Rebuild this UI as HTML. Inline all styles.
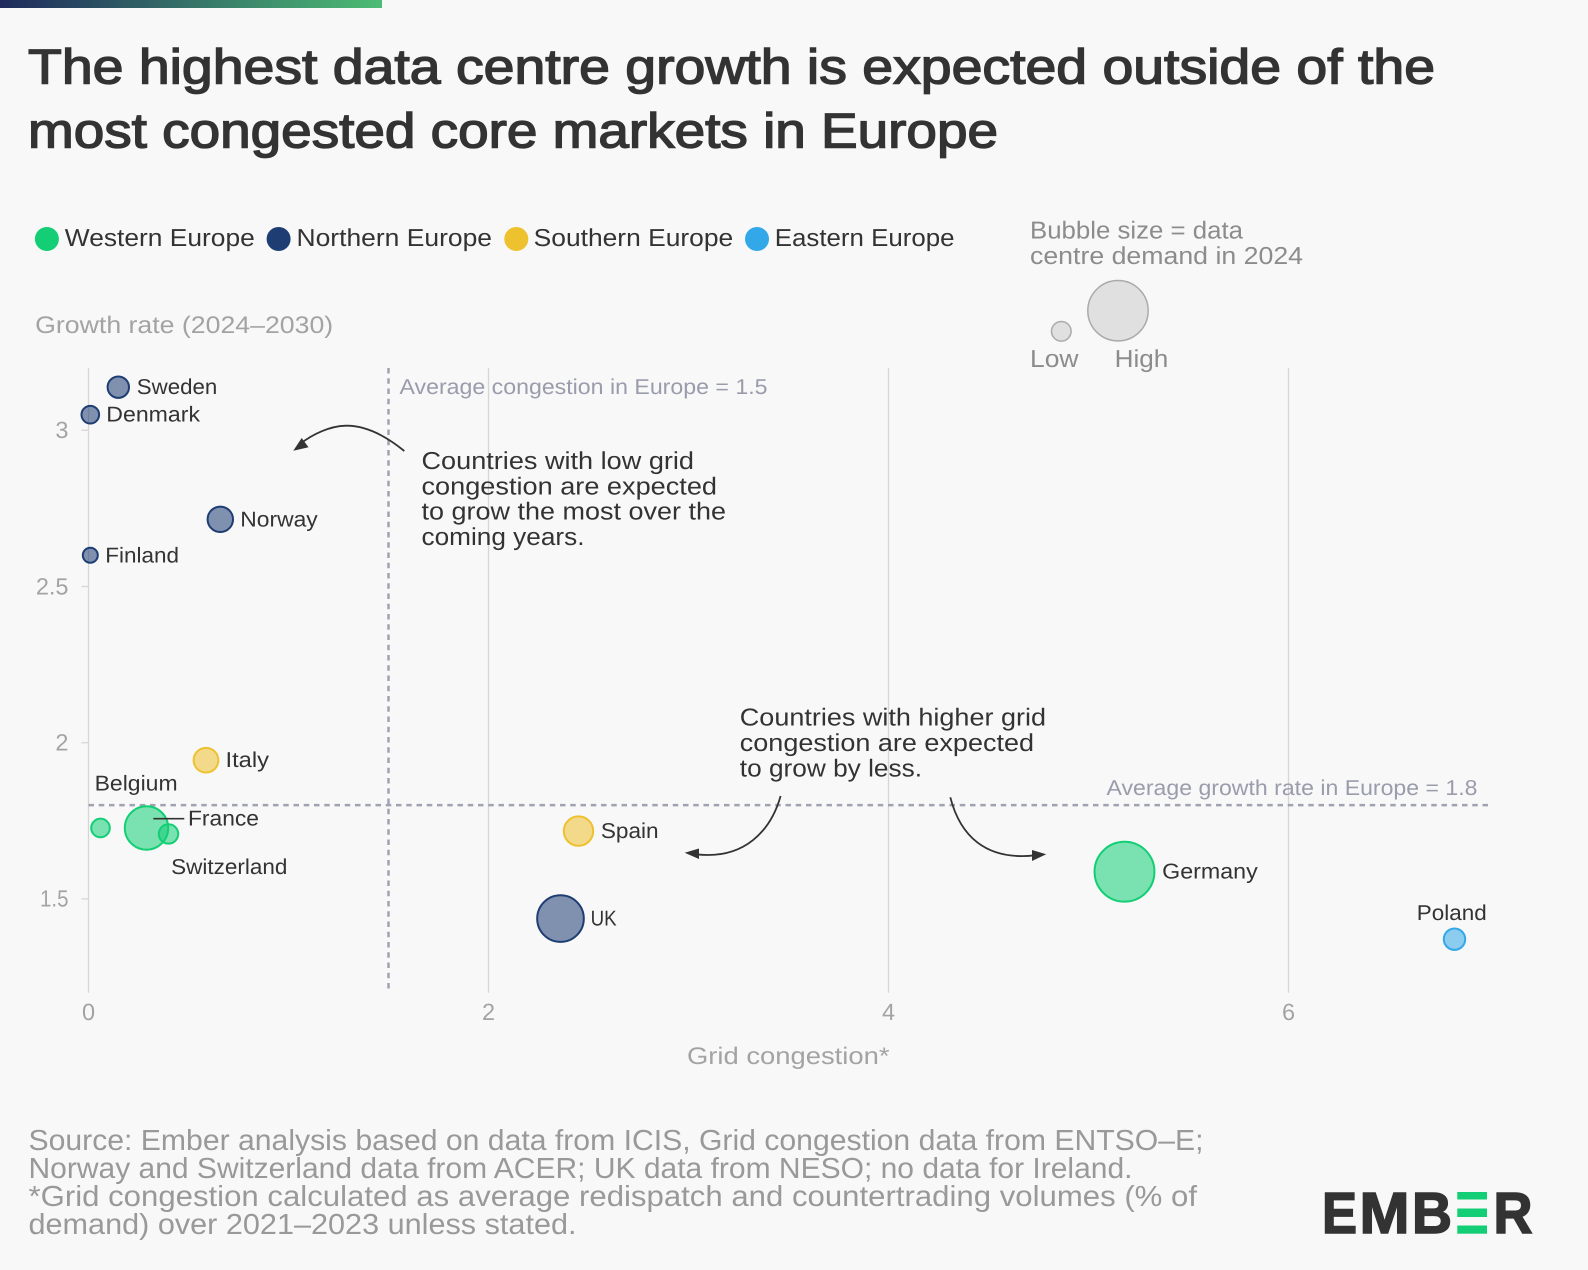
<!DOCTYPE html>
<html lang="en">
<head>
<meta charset="utf-8">
<title>Data centre growth vs grid congestion in Europe</title>
<style>
html,body{margin:0;padding:0;background:#f8f8f8;width:1588px;height:1270px;overflow:hidden}
svg{display:block;font-family:"Liberation Sans",sans-serif}
text{font-family:"Liberation Sans",sans-serif;text-rendering:geometricPrecision}
</style>
</head>
<body>
<svg id="chart" xmlns="http://www.w3.org/2000/svg" width="1588" height="1270" viewBox="0 0 1588 1270">
  <defs>
    <linearGradient id="topGrad" x1="0" x2="1" y1="0" y2="0">
      <stop offset="0" stop-color="#1f2a5c"/>
      <stop offset="1" stop-color="#4cbc74"/>
    </linearGradient>
  </defs>
  <rect x="0" y="0" width="1588" height="1270" fill="#f8f8f8"/>
  <rect x="0" y="0" width="382" height="8" fill="url(#topGrad)"/>

  <g font-size="49" font-weight="400" fill="#333" stroke="#333" stroke-width="1.4">
    <text x="28" y="83.5" textLength="1407" lengthAdjust="spacingAndGlyphs">The highest data centre growth is expected outside of the</text>
    <text x="28" y="147.5" textLength="970" lengthAdjust="spacingAndGlyphs">most congested core markets in Europe</text>
  </g>

  <g font-size="24.5" fill="#333">
    <circle cx="46.9" cy="239" r="12" fill="#13ce74"/>
    <text x="64.8" y="246" textLength="190" lengthAdjust="spacingAndGlyphs">Western Europe</text>
    <circle cx="278.6" cy="239" r="12" fill="#1e3d73"/>
    <text x="296.5" y="246" textLength="195.5" lengthAdjust="spacingAndGlyphs">Northern Europe</text>
    <circle cx="516.3" cy="239" r="12" fill="#eec12f"/>
    <text x="533.7" y="246" textLength="199.5" lengthAdjust="spacingAndGlyphs">Southern Europe</text>
    <circle cx="757" cy="239" r="12" fill="#33a8e8"/>
    <text x="774.8" y="246" textLength="179.7" lengthAdjust="spacingAndGlyphs">Eastern Europe</text>
  </g>

  <g font-size="24.5" fill="#8c8c8c">
    <text x="1030" y="238.7" textLength="213" lengthAdjust="spacingAndGlyphs">Bubble size = data</text>
    <text x="1030" y="264" textLength="273" lengthAdjust="spacingAndGlyphs">centre demand in 2024</text>
    <circle cx="1061.3" cy="331.3" r="9.8" fill="#e0e0e0" stroke="#aaa" stroke-width="1.5"/>
    <circle cx="1118" cy="310.7" r="30.2" fill="#e0e0e0" stroke="#aaa" stroke-width="1.5"/>
    <text x="1030" y="367" textLength="48.5" lengthAdjust="spacingAndGlyphs">Low</text>
    <text x="1114.6" y="367" textLength="53.7" lengthAdjust="spacingAndGlyphs">High</text>
  </g>

  <text x="35.2" y="333" font-size="24" fill="#a3a3a3" textLength="298" lengthAdjust="spacingAndGlyphs">Growth rate (2024–2030)</text>
  <text x="687" y="1064" font-size="24" fill="#a3a3a3" textLength="202.5" lengthAdjust="spacingAndGlyphs">Grid congestion*</text>

  <g id="grid"></g>
  <g id="axes"></g>
  <g id="refs"></g>

  <text x="399.5" y="394" font-size="21.5" fill="#9a9cac" textLength="368" lengthAdjust="spacingAndGlyphs">Average congestion in Europe = 1.5</text>
  <text x="1106.5" y="795" font-size="21.5" fill="#9a9cac" textLength="371" lengthAdjust="spacingAndGlyphs">Average growth rate in Europe = 1.8</text>

  <g id="bubbles"></g>
  <g id="labels"></g>
  <line x1="153.3" y1="818.7" x2="184.3" y2="818.7" stroke="#333" stroke-width="1.6"/>

  <g font-size="24.5" fill="#333">
    <text x="421.5" y="469" textLength="272.5" lengthAdjust="spacingAndGlyphs">Countries with low grid</text>
    <text x="421.5" y="494.5" textLength="295.5" lengthAdjust="spacingAndGlyphs">congestion are expected</text>
    <text x="421.5" y="519.7" textLength="304.5" lengthAdjust="spacingAndGlyphs">to grow the most over the</text>
    <text x="421.5" y="545" textLength="163" lengthAdjust="spacingAndGlyphs">coming years.</text>
  </g>
  <g font-size="24.5" fill="#333">
    <text x="739.8" y="725.3" textLength="306.2" lengthAdjust="spacingAndGlyphs">Countries with higher grid</text>
    <text x="739.8" y="750.8" textLength="294.2" lengthAdjust="spacingAndGlyphs">congestion are expected</text>
    <text x="739.8" y="776.3" textLength="182.2" lengthAdjust="spacingAndGlyphs">to grow by less.</text>
  </g>

  <g fill="none" stroke="#333" stroke-width="1.8">
    <path d="M404.3 451 C381 432 362 425.5 346 425.7 C330 426 313 434 300 444"/>
    <path d="M293.3 450.7 L301.7 438 L308.5 447.3 Z" fill="#333" stroke="none"/>
    <path d="M780.6 796 C771 830 745 860 696 854.3"/>
    <path d="M684.7 852.7 L699 848.5 L699 859 Z" fill="#333" stroke="none"/>
    <path d="M950.3 797.3 C960 835 985 861 1035 855.3"/>
    <path d="M1046.2 854.3 L1032 850 L1032 861 Z" fill="#333" stroke="none"/>
  </g>

  <g font-size="29" fill="#999">
    <text x="28.5" y="1150" textLength="1175" lengthAdjust="spacingAndGlyphs">Source: Ember analysis based on data from ICIS, Grid congestion data from ENTSO–E;</text>
    <text x="28.5" y="1178" textLength="1104" lengthAdjust="spacingAndGlyphs">Norway and Switzerland data from ACER; UK data from NESO; no data for Ireland.</text>
    <text x="28.5" y="1206" textLength="1168.5" lengthAdjust="spacingAndGlyphs">*Grid congestion calculated as average redispatch and countertrading volumes (% of</text>
    <text x="28.5" y="1234" textLength="548" lengthAdjust="spacingAndGlyphs">demand) over 2021–2023 unless stated.</text>
  </g>

  <g font-size="58" font-weight="700" fill="#333" stroke="#333" stroke-width="1.6">
    <text x="1322" y="1233" textLength="35" lengthAdjust="spacingAndGlyphs">E</text>
    <text x="1359.5" y="1233" textLength="50" lengthAdjust="spacingAndGlyphs">M</text>
    <text x="1412" y="1233" textLength="40" lengthAdjust="spacingAndGlyphs">B</text>
    <rect x="1457.3" y="1192" width="29.7" height="7.5" fill="#13ce74" stroke="none"/>
    <rect x="1457.3" y="1208.5" width="29.7" height="8.5" fill="#13ce74" stroke="none"/>
    <rect x="1457.3" y="1225.5" width="29.7" height="8.2" fill="#13ce74" stroke="none"/>
    <text x="1493.5" y="1233" textLength="39" lengthAdjust="spacingAndGlyphs">R</text>
  </g>
</svg>

<script>
// Chart data
const countries = ["Belgium","France","Switzerland","Italy","Spain","Sweden","Denmark","Norway","Finland","UK","Germany","Poland"];
const regions = ["west","west","west","south","south","north","north","north","north","north","west","east"];
const gridCongestion = [0.06,0.29,0.40,0.5875,2.45,0.149,0.009,0.659,0.009,2.36,5.18,6.83];
const growthRate = [1.727,1.727,1.708,1.944,1.717,3.138,3.05,2.715,2.6,1.437,1.587,1.371];
const demand = [1.93,10.5,2.1,3.4,4.8,2.55,1.73,3.6,1.25,12.1,20,2.55];
const xTicks = [0,2,4,6];
const yTicks = [1.5,2,2.5,3];
const yTickLabels = ["1.5","2","2.5","3"];
const avgCongestion = 1.5;
const avgGrowth = 1.8;

// Axis functions
const NS = "http://www.w3.org/2000/svg";
const xScale = v => 88.5 + 200 * v;
const yScale = v => 430.3 + (3 - v) * 312.4;
const rScale = v => Math.sqrt(v) * 6.7;
const plotTop = 368;
const plotBottom = 992.7;
const plotRight = 1488;

const regionStyle = {
  west: {fill:"#13ce74"},
  north:{fill:"#1e3d73"},
  south:{fill:"#eec12f"},
  east: {fill:"#33a8e8"}
};
// Label placement relative to the bubble centre, plus rendered width
const labelLayout = {
  Belgium:    {dx:-5.9, dy:-37.3, w:83},
  France:     {dx:41.5, dy:-2.7,  w:71},
  Switzerland:{dx:2.6,  dy:40.3,  w:116.3},
  Italy:      {dx:19.5, dy:6.7,   w:43.5},
  Spain:      {dx:22.4, dy:7,     w:57.7},
  Sweden:     {dx:18.5, dy:6.7,   w:80.5},
  Denmark:    {dx:16,   dy:6.7,   w:93.7},
  Norway:     {dx:20,   dy:7,     w:77.4},
  Finland:    {dx:15,   dy:7,     w:73.7},
  UK:         {dx:30.1, dy:7,     w:26},
  Germany:    {dx:37.7, dy:7,     w:95.5},
  Poland:     {dx:-37.7,dy:-19.3, w:69.9}
};
const yTickWidth = {"1.5":28.5};

function svgEl(tag, parent, attrs) {
  const el = document.createElementNS(NS, tag);
  for (const k in attrs) el.setAttribute(k, attrs[k]);
  parent.appendChild(el);
  return el;
}

const gridG = document.getElementById("grid");
const axesG = document.getElementById("axes");
const refsG = document.getElementById("refs");
const bubblesG = document.getElementById("bubbles");
const labelsG = document.getElementById("labels");

xTicks.forEach(function (t) {
  const line = svgEl("line", gridG, {x1:xScale(t), x2:xScale(t), y1:plotTop, y2:plotBottom, stroke:"#d6d6d6", "stroke-width":1.3});
  
  
  const lab = svgEl("text", axesG, {x:xScale(t), y:1020, "text-anchor":"middle", "font-size":23.5, fill:"#a3a3a3"});
  lab.textContent = String(t);
  
  
});

yTicks.forEach(function (t, i) {
  const tick = svgEl("line", axesG, {x1:81.5, x2:xScale(0), y1:yScale(t), y2:yScale(t), stroke:"#d6d6d6", "stroke-width":1.3});
  
  
  const lab = svgEl("text", axesG, {x:68.5, y:yScale(t) + 7.8, "text-anchor":"end", "font-size":23.5, fill:"#a3a3a3"});
  lab.textContent = yTickLabels[i];
  if (yTickWidth[yTickLabels[i]]) {
    lab.setAttribute("textLength", yTickWidth[yTickLabels[i]]);
    lab.setAttribute("lengthAdjust", "spacingAndGlyphs");
  }
  
  
});

const vRef = svgEl("line", refsG, {x1:xScale(avgCongestion), x2:xScale(avgCongestion), y1:plotTop, y2:989, stroke:"#a0a2b0", "stroke-width":2.5, "stroke-dasharray":"5.5 4.75"});


const hRef = svgEl("line", refsG, {x1:xScale(0), x2:plotRight, y1:yScale(avgGrowth), y2:yScale(avgGrowth), stroke:"#a0a2b0", "stroke-width":2.5, "stroke-dasharray":"5.5 4.75"});



countries.forEach(function (name, i) {
  const cx = xScale(gridCongestion[i]);
  const cy = yScale(growthRate[i]);
  const col = regionStyle[regions[i]].fill;
  const c = svgEl("circle", bubblesG, {cx:cx, cy:cy, r:rScale(demand[i]), fill:col, "fill-opacity":0.55, stroke:col, "stroke-width":2});
  
  
  const lay = labelLayout[name];
  const t = svgEl("text", labelsG, {x:cx + lay.dx, y:cy + lay.dy, "font-size":21.5, fill:"#333", textLength:lay.w, lengthAdjust:"spacingAndGlyphs"});
  t.textContent = name;
  
  
});
</script>
</body>
</html>
